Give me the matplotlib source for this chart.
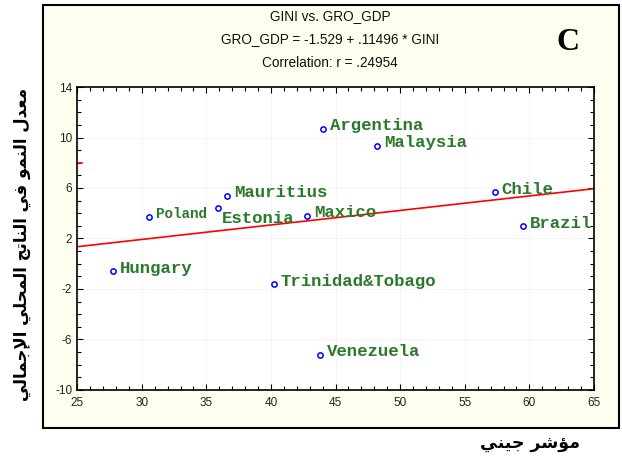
import matplotlib
matplotlib.use("Agg")
import matplotlib.pyplot as plt
from matplotlib.patches import Rectangle
from matplotlib.ticker import MultipleLocator

# data
countries = ["Argentina", "Malaysia", "Mauritius", "Estonia", "Poland", "Maxico",
             "Chile", "Brazil", "Hungary", "Trinidad&Tobago", "Venezuela"]
gini = [44.0, 48.2, 36.6, 35.9, 30.6, 42.8, 57.3, 59.5, 27.8, 40.2, 43.8]
gro_gdp = [10.7, 9.35, 5.4, 4.4, 3.7, 3.8, 5.65, 3.0, -0.6, -1.6, -7.2]

intercept = -1.529
slope = 0.11496

xticks = [25, 30, 35, 40, 45, 50, 55, 60, 65]
yticks = [-10, -6, -2, 2, 6, 10, 14]

title_lines = ["GINI vs. GRO_GDP",
               "GRO_GDP = -1.529 + .11496 * GINI",
               "Correlation: r = .24954"]
ylabel_ar = "معدل النمو في الناتج المحلي الإجمالي"
xlabel_ar = "مؤشر جيني"

# Arabic presentation forms: (isolated, final, initial, medial)
FORMS = {
    "\u0627": ("\ufe8d", "\ufe8e", None, None),
    "\u0625": ("\ufe87", "\ufe88", None, None),
    "\u0624": ("\ufe85", "\ufe86", None, None),
    "\u062f": ("\ufea9", "\ufeaa", None, None),
    "\u0631": ("\ufead", "\ufeae", None, None),
    "\u0648": ("\ufeed", "\ufeee", None, None),
    "\u062a": ("\ufe95", "\ufe96", "\ufe97", "\ufe98"),
    "\u062c": ("\ufe9d", "\ufe9e", "\ufe9f", "\ufea0"),
    "\u062d": ("\ufea1", "\ufea2", "\ufea3", "\ufea4"),
    "\u0634": ("\ufeb5", "\ufeb6", "\ufeb7", "\ufeb8"),
    "\u0639": ("\ufec9", "\ufeca", "\ufecb", "\ufecc"),
    "\u0641": ("\ufed1", "\ufed2", "\ufed3", "\ufed4"),
    "\u0644": ("\ufedd", "\ufede", "\ufedf", "\ufee0"),
    "\u0645": ("\ufee1", "\ufee2", "\ufee3", "\ufee4"),
    "\u0646": ("\ufee5", "\ufee6", "\ufee7", "\ufee8"),
    "\u064a": ("\ufef1", "\ufef2", "\ufef3", "\ufef4"),
    "\ufefb": ("\ufefb", "\ufefc", None, None),
    "\ufef9": ("\ufef9", "\ufefa", None, None),
}


def shape_arabic(text):
    """Joins letters into contextual forms and reverses for right-to-left display."""
    text = text.replace("\u0644\u0627", "\ufefb").replace("\u0644\u0625", "\ufef9")
    out = []
    for i, ch in enumerate(text):
        if ch not in FORMS:
            out.append(ch)
            continue
        prev = text[i - 1] if i > 0 else None
        nxt = text[i + 1] if i + 1 < len(text) else None
        join_prev = prev in FORMS and FORMS[prev][2] is not None
        join_next = nxt in FORMS and FORMS[ch][2] is not None
        isol, fin, init, med = FORMS[ch]
        if join_prev and join_next:
            out.append(med)
        elif join_prev:
            out.append(fin)
        elif join_next:
            out.append(init)
        else:
            out.append(isol)
    return "".join(reversed(out))


plt.rcParams['axes.unicode_minus'] = False

fig = plt.figure(figsize=(6.22, 4.68), dpi=100)
fig.patch.set_facecolor("white")

# cream panel with black frame
panel = Rectangle((0.069, 0.0855), 0.926, 0.904, transform=fig.transFigure,
                  facecolor="#fffff0", edgecolor="black", linewidth=1.5, zorder=-1)
fig.patches.append(panel)

ax = fig.add_axes([0.124, 0.167, 0.831, 0.647])
ax.set_zorder(2)
ax.set_facecolor("white")

ax.plot([25, 65], [intercept + slope * 25, intercept + slope * 65], color="red", lw=1.2, zorder=2)
ax.plot([25, 25.4], [8, 8], color="red", lw=1.2, zorder=2)

ax.plot(gini, gro_gdp, "o", markersize=3.8, markerfacecolor="white",
        markeredgecolor="blue", markeredgewidth=1.1, zorder=3)

for name, x, y in zip(countries, gini, gro_gdp):
    size = 12.5
    offset = (5, 2)
    if name == "Poland":
        size = 10.3
    if name == "Estonia":
        offset = (3, -7.5)
    ax.annotate(name, (x, y), xytext=offset, textcoords="offset points",
                ha="left", va="center", fontsize=size, color="#2b7a2b",
                family="Liberation Mono", fontweight="bold")

ax.set_xlim(25, 65)
ax.set_ylim(-10, 14)
ax.set_xticks(xticks)
ax.set_yticks(yticks)
ax.xaxis.set_minor_locator(MultipleLocator(1))
ax.yaxis.set_minor_locator(MultipleLocator(1))
ax.tick_params(which="both", direction="in", top=True, right=True,
               labelsize=8.5, labelcolor="#222222", width=0.8)
ax.tick_params(which="major", length=4)
ax.tick_params(which="minor", length=3)
ax.tick_params(axis="x", pad=5)
for lab in ax.get_xticklabels() + ax.get_yticklabels():
    lab.set_family("Liberation Sans")
for sp in ax.spines.values():
    sp.set_linewidth(1.2)
ax.grid(True, which="major", color="#f2f2f2", lw=0.5)

ys = [0.965, 0.916, 0.865]
for txt, yy in zip(title_lines, ys):
    fig.text(0.531, yy, txt, ha="center", va="center", fontsize=9.8,
             family="Liberation Sans", color="#111111")

fig.text(0.913, 0.91, "C", ha="center", va="center", fontsize=23,
         family="Liberation Serif", fontweight="bold")

fig.text(0.036, 0.478, shape_arabic(ylabel_ar), rotation=90, ha="center", va="center",
         fontsize=12, family="DejaVu Sans", fontweight="bold")
fig.text(0.852, 0.054, shape_arabic(xlabel_ar), ha="center", va="center",
         fontsize=12.5, family="DejaVu Sans", fontweight="bold")

fig.savefig("out.png", dpi=100)
